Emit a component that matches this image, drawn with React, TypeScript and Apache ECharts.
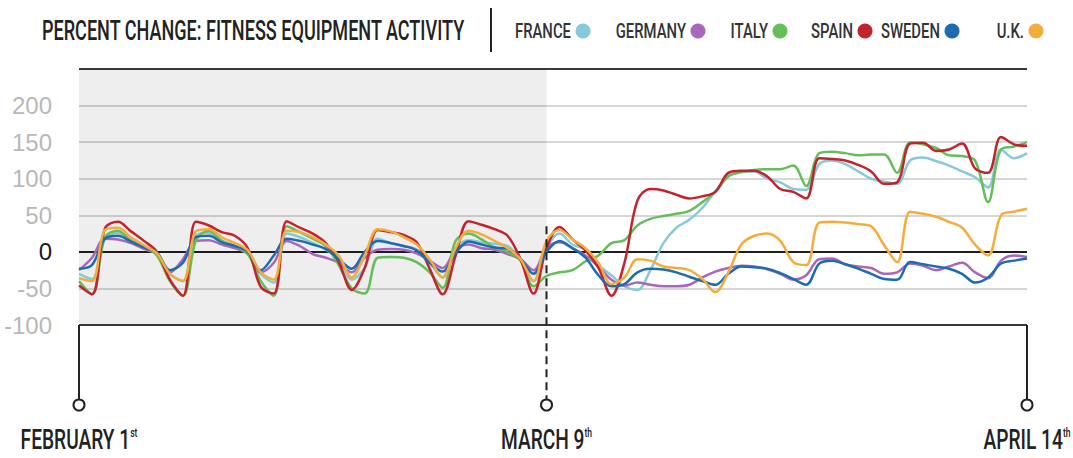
import React, { useEffect, useRef } from "react";
import * as echarts from "echarts";

// ---------- data ----------
const title = "PERCENT CHANGE: FITNESS EQUIPMENT ACTIVITY";
const countries = ["FRANCE", "GERMANY", "ITALY", "SPAIN", "SWEDEN", "U.K."];
const countryColors = ["#86C9D8", "#A866BC", "#66BE5B", "#C3232E", "#1C6CAF", "#F4AD3C"];

const yMin = -100;
const yMax = 250;
const yStep = 50;

// day index counted from February 1st
const dayIndex = Array.from({ length: 74 }, (_, i) => i);
const lastDay = 73;
const lockdownDay = 36;
const markerDays = [0, 36, 73];
const markerLabels = ["FEBRUARY 1", "MARCH 9", "APRIL 14"];
const markerSuffixes = ["st", "th", "th"];

const france = [
  -30, -37, 18, 26, 16, 7, -3, -30, -40, 22, 26, 15, 8, -2, -30, -42, 25, 20, 12, 3,
  -8, -38, -22, 18, 12, 8, 3, -15, -35, 5, 16, 13, 11, 8, -10, -40, 5, 25, 10, 3,
  -18, -32, -47, -52, -25, 12, 33, 44, 60, 83, 104, 109, 110, 100, 95, 86, 85, 120, 125, 120,
  110, 100, 96, 93, 125, 129, 124, 118, 110, 102, 88, 140, 128, 135,
];
const germany = [
  -25, -8, 18, 17, 12, 4, -3, -28, -10, 15, 16, 10, 5, -3, -28, -15, 15, 8, -3, -8,
  -15, -28, -8, 3, 4, 3, -2, -12, -22, 3, 10, 5, 3, -3, -10, -25, 5, 13, 5, -5,
  -20, -38, -46, -42, -45, -47, -47, -45, -35, -27, -22, -19, -20, -24, -30, -38, -32, -10, -9, -17,
  -20, -22, -30, -28, -16, -19, -25, -20, -15, -28, -36, -12, -5, -7,
];
const italy = [
  -40, -58, 20, 29, 15, 8, -5, -40, -60, 15, 29, 15, 8, -3, -40, -60, 35, 27, 18, 8,
  -18, -50, -57, -8, -7, -8, -14, -28, -49, 15, 25, 17, 6, 0, -12, -47, -33, -28, -25, -13,
  -5, 12, 16, 36, 45, 49, 52, 56, 68, 82, 103, 109, 112, 113, 113, 118, 90, 135, 137, 135,
  132, 133, 133, 108, 150, 147, 142, 132, 131, 125, 68, 140, 144, 150,
];
const spain = [
  -46, -58, 32, 41, 28, 15, 0, -38, -60, 41, 36, 27, 22, 5, -48, -57, 42, 33, 25, 12,
  -14, -52, -22, 30, 27, 23, 13, -23, -58, -5, 42, 37, 31, 22, -10, -57, 5, 34, 17, 2,
  -22, -60, -15, 70, 86, 84, 78, 73, 76, 82, 108, 111, 111, 103, 86, 82, 73, 128, 127, 125,
  119, 110, 93, 95, 148, 149, 138, 140, 148, 114, 108, 157, 147, 145,
];
const sweden = [
  -23, -18, 18, 22, 14, 6, -1, -25, -15, 20, 22, 13, 8, 0, -25, -5, 18, 15, 10, 4,
  -10, -23, 0, 15, 12, 8, 2, -15, -27, -2, 14, 10, 6, 4, -10, -30, 0, 15, 5, -8,
  -32, -47, -44, -28, -23, -24, -28, -34, -40, -45, -30, -20, -21, -23, -29, -37, -45, -16, -12, -17,
  -23, -30, -37, -38, -14, -17, -20, -23, -30, -42, -35, -16, -12, -9,
];
const uk = [
  -36, -40, 30, 33, 20, 9, -2, -30, -40, 28, 31, 20, 12, 2, -28, -38, 29, 27, 20, 10,
  -5, -35, -5, 31, 28, 20, 10, -10, -35, 5, 29, 24, 15, 5, -10, -40, 15, 30, 17, 5,
  -15, -44, -35, -10, -12, -20, -22, -25, -37, -55, -28, 10, 22, 25, 15, -14, -18, 40, 41, 40,
  38, 35, 9, -14, 55, 52, 48, 41, 33, 10, -5, 50, 55, 59,
];
const seriesValues = [france, germany, italy, spain, sweden, uk];

// ---------- layout / style ----------
const W = 1073;
const H = 458;
const legendDotX = [583, 698, 780, 865, 952, 1036];
const condensed = "Roboto";

function measure(text: string, size: number, weight = "500") {
  const c = document.createElement("canvas").getContext("2d")!;
  c.font = `${weight} ${size}px ${condensed}`;
  return c.measureText(text).width;
}

export default function App() {
  const ref = useRef<HTMLDivElement>(null);

  useEffect(() => {
    const chart = echarts.init(ref.current!, null, { renderer: "svg" });

    const series = seriesValues.map((vals, k) => ({
      name: countries[k],
      type: "line",
      data: vals.map((v, i) => [dayIndex[i], v]),
      smooth: 0.35,
      symbol: "none",
      z: 3,
      lineStyle: { width: 2.5, color: countryColors[k] },
      itemStyle: { color: countryColors[k] },
      markArea:
        k === 0
          ? {
              silent: true,
              itemStyle: { color: "rgba(20,30,10,0.075)" },
              data: [[{ xAxis: 0 }, { xAxis: lockdownDay }]],
            }
          : undefined,
    }));

    const labelFont = "'Liberation Sans', sans-serif";

    chart.setOption({
      animation: false,
      backgroundColor: "#ffffff",
      grid: { left: 79, right: 46, top: 69, bottom: 133 },
      xAxis: { type: "value", min: 0, max: lastDay, show: false },
      yAxis: {
        type: "value",
        min: yMin,
        max: yMax,
        interval: yStep,
        axisLine: { show: false },
        axisTick: { show: false },
        axisLabel: {
          margin: 27,
          formatter: (v: number) => (v === yMax ? "" : v === 0 ? "{z|0}" : `{g|${v}}`),
          rich: {
            g: { color: "#b8b8b8", fontSize: 24, fontFamily: labelFont },
            z: { color: "#1a1a1a", fontSize: 24, fontFamily: labelFont },
          },
        },
        splitLine: {
          lineStyle: {
            width: 2,
            color: ["#3a3a3a", "#d6d6d6", "#1e1e1e", "#d6d6d6", "#d6d6d6", "#d6d6d6", "#d6d6d6", "#3a3a3a"],
          },
        },
      },
      series,
    });

    const px = (d: number, v: number) => chart.convertToPixel({ gridIndex: 0 }, [d, v]) as number[];
    const yBot = px(0, yMin)[1];
    const yDashTop = px(lockdownDay, 35)[1];

    const titleScale = 423 / measure(title, 27);
    const legendScale = 56 / measure("FRANCE", 20);
    const dateScale = 91 / (measure("MARCH 9", 27) + measure("th", 12));

    const graphic: any[] = [];
    graphic.push({
      type: "text",
      x: 42,
      y: 31,
      scaleX: titleScale,
      style: {
        text: title,
        fontSize: 27,
        fontWeight: 500,
        fontFamily: condensed,
        fill: "#222",
        align: "left",
        verticalAlign: "middle",
      },
    });
    graphic.push({
      type: "line",
      shape: { x1: 491, y1: 8, x2: 491, y2: 52 },
      style: { stroke: "#222", lineWidth: 2 },
    });
    countries.forEach((c, k) => {
      graphic.push({
        type: "text",
        x: legendDotX[k] - 12,
        y: 31,
        scaleX: legendScale,
        style: {
          text: c,
          fontSize: 20,
          fontWeight: 500,
          fontFamily: condensed,
          fill: "#333",
          align: "right",
          verticalAlign: "middle",
        },
      });
      graphic.push({
        type: "circle",
        shape: { cx: legendDotX[k], cy: 31, r: 7.5 },
        style: { fill: countryColors[k] },
      });
    });

    markerDays.forEach((d, k) => {
      const x = px(d, yMin)[0];
      const isMid = d === lockdownDay;
      graphic.push({
        type: "line",
        z: 10,
        shape: { x1: x, y1: isMid ? yDashTop : yBot, x2: x, y2: yBot + 74 },
        style: { stroke: "#222", lineWidth: 2, lineDash: isMid ? [8, 5] : null },
      });
      graphic.push({
        type: "circle",
        z: 10,
        shape: { cx: x, cy: yBot + 80, r: 5.5 },
        style: { fill: "#fff", stroke: "#222", lineWidth: 2 },
      });
      graphic.push({
        type: "text",
        x: x,
        y: yBot + 115,
        scaleX: dateScale,
        style: {
          text: `{m|${markerLabels[k]}}{s|${markerSuffixes[k]}}`,
          align: "center",
          verticalAlign: "middle",
          rich: {
            m: { fontSize: 27, fontWeight: 500, fontFamily: condensed, fill: "#222" },
            s: { fontSize: 12, fontWeight: 500, fontFamily: condensed, fill: "#222", verticalAlign: "top" },
          },
        },
      });
    });

    chart.setOption({ graphic });

    return () => chart.dispose();
  }, []);

  return (
    <div
      ref={ref}
      style={{ position: "fixed", left: 0, top: 0, width: W, height: H, background: "#fff" }}
    />
  );
}
